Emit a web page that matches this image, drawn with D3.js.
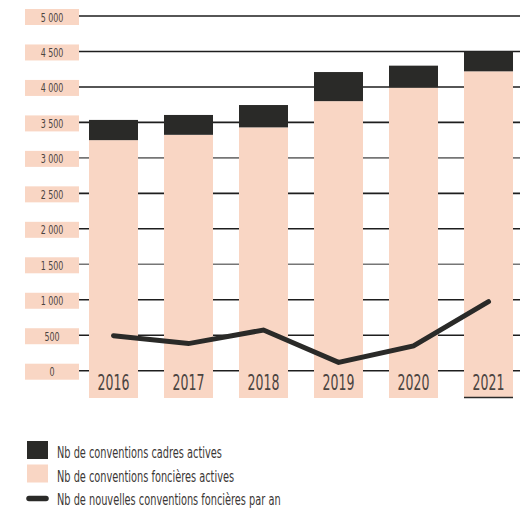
<!DOCTYPE html>
<html>
<head>
<meta charset="utf-8">
<script src="https://cdn.jsdelivr.net/npm/d3@7"></script>
<style>
  body { margin: 0; background: #fff; }
  text { font-family: "DejaVu Sans Condensed", "DejaVu Sans", sans-serif; }
</style>
</head>
<body>
<svg id="chart" width="521" height="511"></svg>
<script>
// values
const years = ["2016", "2017", "2018", "2019", "2020", "2021"];
const foncieres = [3250, 3325, 3430, 3800, 3990, 4220];
const cadres = [285, 280, 315, 410, 310, 280];
const nouvelles = [494, 382, 574, 118, 348, 973];
const yTicks = [0, 500, 1000, 1500, 2000, 2500, 3000, 3500, 4000, 4500, 5000];
const legendLabels = [
  "Nb de conventions cadres actives",
  "Nb de conventions foncières actives",
  "Nb de nouvelles conventions foncières par an"
];

const peach = "#f9d6c4";
const dark = "#2a2a28";
const textColor = "#4b4441";
const squeeze = 0.68; // condensed look

const svg = d3.select("#chart");

const x = d3.scaleBand()
    .domain(years)
    .range([76, 526])
    .paddingInner(0.3467)
    .paddingOuter(0.1733);

const y = d3.scaleLinear()
    .domain([0, 5000])
    .range([370.7, 16]);

const barBottom = 398;
const fmt = d => d3.format(",")(d).replace(",", " ");

// gridlines
svg.append("g")
  .selectAll("line")
  .data(yTicks)
  .join("line")
    .attr("x1", 79)
    .attr("x2", 520)
    .attr("y1", d => y(d))
    .attr("y2", d => y(d))
    .attr("stroke", (d, i) => (i === 3 || i === 6) ? "#767676" : "#1e1e1e")
    .attr("stroke-width", 1.6);

// tick labels on peach boxes
const tickG = svg.append("g")
  .selectAll("g")
  .data(yTicks)
  .join("g")
    .attr("transform", d => `translate(25, ${y(d) + 1})`);

tickG.append("rect")
    .attr("x", 0)
    .attr("y", -8)
    .attr("width", 54)
    .attr("height", 16)
    .attr("fill", peach);

tickG.append("text")
    .attr("transform", `translate(27, 4.5) scale(${squeeze}, 1)`)
    .attr("text-anchor", "middle")
    .attr("font-size", 13)
    .attr("fill", textColor)
    .text(d => fmt(d));

// bars: foncieres (peach, drawn down below zero) + cadres (dark) on top
const bars = svg.append("g")
  .selectAll("g")
  .data(years)
  .join("g");

bars.append("rect")
    .attr("x", d => x(d))
    .attr("width", x.bandwidth())
    .attr("y", (d, i) => y(foncieres[i]))
    .attr("height", (d, i) => barBottom - y(foncieres[i]))
    .attr("fill", peach);

bars.append("rect")
    .attr("x", d => x(d))
    .attr("width", x.bandwidth())
    .attr("y", (d, i) => y(foncieres[i] + cadres[i]))
    .attr("height", (d, i) => y(foncieres[i]) - y(foncieres[i] + cadres[i]))
    .attr("fill", dark);

bars.append("text")
    .attr("transform", d => `translate(${x(d) + x.bandwidth() / 2}, 390) scale(${squeeze}, 1)`)
    .attr("text-anchor", "middle")
    .attr("font-size", 20.5)
    .attr("fill", textColor)
    .text(d => d);

// underline on the last year
svg.append("line")
    .attr("x1", x(years[years.length - 1]))
    .attr("x2", x(years[years.length - 1]) + x.bandwidth())
    .attr("y1", barBottom - 0.5)
    .attr("y2", barBottom - 0.5)
    .attr("stroke", dark)
    .attr("stroke-width", 1.5);

// line: nouvelles conventions
const line = d3.line()
    .x((d, i) => x(years[i]) + x.bandwidth() / 2)
    .y(d => y(d));

svg.append("path")
    .datum(nouvelles)
    .attr("d", line)
    .attr("fill", "none")
    .attr("stroke", dark)
    .attr("stroke-width", 5)
    .attr("stroke-linecap", "round")
    .attr("stroke-linejoin", "miter");

// legend
const legend = svg.append("g")
    .attr("transform", "translate(27, 441)");

const item = legend.selectAll("g")
  .data(legendLabels)
  .join("g")
    .attr("transform", (d, i) => `translate(0, ${i * 23.5})`);

item.filter((d, i) => i < 2)
  .append("rect")
    .attr("width", 21)
    .attr("height", 18)
    .attr("fill", (d, i) => i === 0 ? dark : peach);

item.filter((d, i) => i === 2)
  .append("line")
    .attr("x1", 2)
    .attr("x2", 19)
    .attr("y1", 10.5)
    .attr("y2", 10.5)
    .attr("stroke", dark)
    .attr("stroke-width", 5.5)
    .attr("stroke-linecap", "round");

item.append("text")
    .attr("transform", `translate(30, 17) scale(${squeeze}, 1)`)
    .attr("font-size", 16)
    .attr("fill", "#3b3735")
    .text(d => d);
</script>
</body>
</html>
